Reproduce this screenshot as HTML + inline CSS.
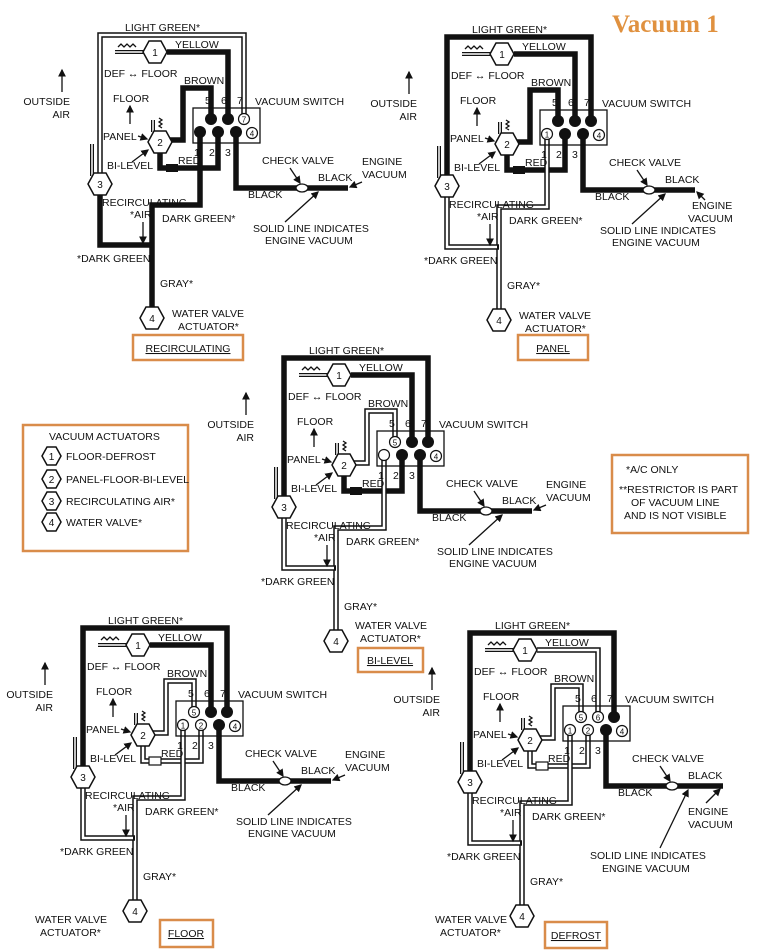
<!DOCTYPE html>
<html><head><meta charset="utf-8"><style>
body{margin:0;background:#fff;}
svg{display:block;}
text{font-family:"Liberation Sans",sans-serif;font-size:10.5px;fill:#111;}
.n{font-size:10px;}
.t{stroke:#111;stroke-width:5.5;fill:none;}
.hb{stroke:#111;stroke-width:5.5;fill:none;}
.hw{stroke:#fff;stroke-width:2.5;fill:none;}
.a{stroke:#111;stroke-width:1.3;fill:none;}
.hex{fill:#fff;stroke:#111;stroke-width:1.5;}
.ob{fill:none;stroke:#d98c4a;stroke-width:2.5;}
</style></head><body>
<svg width="757" height="952" viewBox="0 0 757 952" xmlns="http://www.w3.org/2000/svg">
<defs>
<marker id="ah" markerWidth="6" markerHeight="6" refX="5" refY="3" orient="auto"><path d="M0,0 L6,3 L0,6 z" fill="#111"/></marker>
</defs>
<text x="612" y="32" style="font-family:'Liberation Serif',serif;font-size:25px;font-weight:bold;fill:#e0913f">Vacuum 1</text>

<!-- ===== DIAGRAM 1 RECIRCULATING ===== -->
<g transform="translate(0,0)">
<path class="hb" d="M100,174 V35 H244 V114"/><path class="hw" d="M100,174 V35 H244 V114"/>
<path class="t" d="M167,52 H228 V119"/>
<path class="t" d="M211,119 V88 H183 V140 H170"/>
<path class="t" d="M160,152 V168 H218 V132"/>
<path class="t" d="M200,132 V205 H152 V308"/>
<path class="t" d="M100,194 V245 H152"/>
<path class="t" d="M236,132 V188 H298"/><path class="t" d="M306,188 H348"/>
<g id="c1">
<path class="hb" d="M92,144 V176" style="stroke-width:4"/><path class="hw" d="M92,144 V176" style="stroke-width:1.5"/>
<path class="hb" d="M115,52 H145" style="stroke-width:4"/><path class="hw" d="M115,52 H145" style="stroke-width:1.5"/>
<path class="a" d="M118,47 l3,-3 l3,3 l3,-3 l3,3 l3,-3 l3,3"/>
<path class="hb" d="M153,120 V132" style="stroke-width:4"/><path class="hw" d="M153,120 V132" style="stroke-width:1.5"/>
<path class="a" d="M159,118 l3,2 l-3,2 l3,2 l-3,2 l3,2"/>
<rect x="193" y="108" width="67" height="35" fill="none" stroke="#111" stroke-width="1.3"/>
<ellipse cx="302" cy="188" rx="6" ry="4" fill="#fff" stroke="#111" stroke-width="1.3"/>
<path class="a" d="M290,168 L300,183" marker-end="url(#ah)"/>
<path class="a" d="M130,124 V106" marker-end="url(#ah)"/>
<path class="a" d="M62,92 V70" marker-end="url(#ah)"/>
<path class="a" d="M143,222 V243" marker-end="url(#ah)"/>
<path class="a" d="M138,136 L147,139" marker-end="url(#ah)"/>
<path class="a" d="M132,162 L148,150" marker-end="url(#ah)"/>
<text x="125" y="31">LIGHT GREEN*</text>
<text x="175" y="48">YELLOW</text>
<text x="104" y="77">DEF ↔ FLOOR</text>
<text x="184" y="84">BROWN</text>
<text x="113" y="102">FLOOR</text>
<text x="70" y="105" text-anchor="end">OUTSIDE</text>
<text x="70" y="118" text-anchor="end">AIR</text>
<text x="205" y="104">5</text><text x="221" y="104">6</text><text x="237" y="104">7</text>
<text x="255" y="105">VACUUM SWITCH</text>
<text x="103" y="140">PANEL</text>
<text x="107" y="169">BI-LEVEL</text>
<text x="194" y="156">1</text><text x="209" y="156">2</text><text x="225" y="156">3</text>
<text x="178" y="164">RED</text>
<text x="262" y="164">CHECK VALVE</text>
<text x="318" y="181">BLACK</text>
<text x="248" y="198">BLACK</text>
<text x="102" y="206">RECIRCULATING</text>
<text x="130" y="218">*AIR</text>
<text x="162" y="222">DARK GREEN*</text>
<text x="77" y="262">*DARK GREEN</text>
<text x="160" y="287">GRAY*</text>
<polygon class="hex" points="143,52 149,41 161,41 167,52 161,63 149,63"/><text x="155" y="56" text-anchor="middle" class="n">1</text>
<polygon class="hex" points="148,142 154,131 166,131 172,142 166,153 154,153"/><text x="160" y="146" text-anchor="middle" class="n">2</text>
<polygon class="hex" points="88,184 94,173 106,173 112,184 106,195 94,195"/><text x="100" y="188" text-anchor="middle" class="n">3</text>
<polygon class="hex" points="140,318 146,307 158,307 164,318 158,329 146,329"/><text x="152" y="322" text-anchor="middle" class="n">4</text>
<circle cx="252" cy="133" r="5.5" fill="#fff" stroke="#111" stroke-width="1.2"/><text x="252" y="136.5" text-anchor="middle" style="font-size:8px">4</text>
</g>
<g id="ev">
<path class="a" d="M362,182 L350,187" marker-end="url(#ah)"/>
<text x="362" y="165">ENGINE</text>
<text x="362" y="178">VACUUM</text>
</g>
<g id="sl">
<path class="a" d="M285,222 L318,192" marker-end="url(#ah)"/>
<text x="253" y="232">SOLID LINE INDICATES</text>
<text x="265" y="244">ENGINE VACUUM</text>
</g>
<circle cx="211" cy="119" r="6" fill="#111"/><circle cx="228" cy="119" r="6" fill="#111"/>
<circle cx="244" cy="119" r="5.5" fill="#fff" stroke="#111" stroke-width="1.2"/><text x="244" y="122.5" text-anchor="middle" style="font-size:8px">7</text>
<circle cx="200" cy="132" r="6" fill="#111"/><circle cx="218" cy="132" r="6" fill="#111"/><circle cx="236" cy="132" r="6" fill="#111"/>
<rect x="166" y="164" width="12" height="8" fill="#111"/>
<text x="172" y="317">WATER VALVE</text><text x="178" y="330">ACTUATOR*</text>
</g>
<rect class="ob" x="133" y="335" width="110" height="25"/>
<text x="188" y="352" text-anchor="middle" style="text-decoration:underline">RECIRCULATING</text>

<!-- ===== DIAGRAM 2 PANEL ===== -->
<g transform="translate(347,2)">
<path class="t" d="M100,174 V35 H244 V119"/>
<path class="t" d="M167,52 H228 V119"/>
<path class="t" d="M211,119 V88 H183 V140 H170"/>
<path class="t" d="M160,152 V168 H218 V132"/>
<path class="hb" d="M200,132 V205 H152 V308"/><path class="hw" d="M200,132 V205 H152 V308"/>
<path class="hb" d="M100,194 V245 H152"/><path class="hw" d="M100,194 V245 H150"/>
<path class="t" d="M236,132 V188 H298"/><path class="t" d="M306,188 H348"/>
<use href="#c1"/>
<use href="#sl"/>
<path class="a" d="M358,198 L350,190" marker-end="url(#ah)"/>
<text x="345" y="207">ENGINE</text><text x="341" y="220">VACUUM</text>
<circle cx="211" cy="119" r="6" fill="#111"/><circle cx="228" cy="119" r="6" fill="#111"/><circle cx="244" cy="119" r="6" fill="#111"/>
<circle cx="200" cy="132" r="5.5" fill="#fff" stroke="#111" stroke-width="1.2"/><text x="200" y="135.5" text-anchor="middle" style="font-size:8px">1</text>
<circle cx="218" cy="132" r="6" fill="#111"/><circle cx="236" cy="132" r="6" fill="#111"/>
<rect x="166" y="164" width="12" height="8" fill="#111"/>
<text x="172" y="317">WATER VALVE</text><text x="178" y="330">ACTUATOR*</text>
</g>
<rect class="ob" x="518" y="335" width="70" height="25"/>
<text x="553" y="352" text-anchor="middle" style="text-decoration:underline">PANEL</text>

<!-- ===== DIAGRAM 3 BI-LEVEL ===== -->
<g transform="translate(184,323)">
<path class="t" d="M100,174 V35 H244 V119"/>
<path class="t" d="M167,52 H228 V119"/>
<path class="hb" d="M211,119 V88 H183 V140 H170"/><path class="hw" d="M211,119 V88 H183 V140 H170"/>
<path class="t" d="M160,152 V168 H218 V132"/>
<path class="hb" d="M200,132 V205 H152 V308"/><path class="hw" d="M200,132 V205 H152 V308"/>
<path class="hb" d="M100,194 V245 H152"/><path class="hw" d="M100,194 V245 H150"/>
<path class="t" d="M236,132 V188 H298"/><path class="t" d="M306,188 H348"/>
<use href="#c1"/><use href="#ev"/><use href="#sl"/>
<circle cx="211" cy="119" r="5.5" fill="#fff" stroke="#111" stroke-width="1.2"/><text x="211" y="122.5" text-anchor="middle" style="font-size:8px">5</text>
<circle cx="228" cy="119" r="6" fill="#111"/><circle cx="244" cy="119" r="6" fill="#111"/>
<circle cx="200" cy="132" r="5.5" fill="#fff" stroke="#111" stroke-width="1.2"/>
<circle cx="218" cy="132" r="6" fill="#111"/><circle cx="236" cy="132" r="6" fill="#111"/>
<rect x="166" y="164" width="12" height="8" fill="#111"/>
<text x="171" y="306">WATER VALVE</text><text x="176" y="319">ACTUATOR*</text>
</g>
<rect class="ob" x="358" y="648" width="65" height="24"/>
<text x="390" y="664" text-anchor="middle" style="text-decoration:underline">BI-LEVEL</text>

<!-- ===== DIAGRAM 4 FLOOR ===== -->
<g transform="translate(-17,593)">
<path class="t" d="M100,174 V35 H244 V119"/>
<path class="t" d="M167,52 H228 V119"/>
<path class="hb" d="M211,119 V88 H183 V140 H170"/><path class="hw" d="M211,119 V88 H183 V140 H170"/>
<path class="hb" d="M160,152 V168 H218 V132"/><path class="hw" d="M160,152 V168 H218 V132"/>
<path class="hb" d="M200,132 V205 H152 V308"/><path class="hw" d="M200,132 V205 H152 V308"/>
<path class="hb" d="M100,194 V245 H152"/><path class="hw" d="M100,194 V245 H150"/>
<path class="t" d="M236,132 V188 H298"/><path class="t" d="M306,188 H348"/>
<use href="#c1"/><use href="#ev"/><use href="#sl"/>
<circle cx="211" cy="119" r="5.5" fill="#fff" stroke="#111" stroke-width="1.2"/><text x="211" y="122.5" text-anchor="middle" style="font-size:8px">5</text>
<circle cx="228" cy="119" r="6" fill="#111"/><circle cx="244" cy="119" r="6" fill="#111"/>
<circle cx="200" cy="132" r="5.5" fill="#fff" stroke="#111" stroke-width="1.2"/><text x="200" y="135.5" text-anchor="middle" style="font-size:8px">1</text>
<circle cx="218" cy="132" r="5.5" fill="#fff" stroke="#111" stroke-width="1.2"/><text x="218" y="135.5" text-anchor="middle" style="font-size:8px">2</text>
<circle cx="236" cy="132" r="6" fill="#111"/>
<rect x="166" y="164" width="12" height="8" fill="#fff" stroke="#111" stroke-width="1.2"/>
</g>
<text x="35" y="923">WATER VALVE</text><text x="40" y="936">ACTUATOR*</text>
<rect class="ob" x="160" y="920" width="53" height="27"/>
<text x="186" y="937" text-anchor="middle" style="text-decoration:underline">FLOOR</text>

<!-- ===== DIAGRAM 5 DEFROST ===== -->
<g transform="translate(370,598)">
<path class="t" d="M100,174 V35 H244 V119"/>
<path class="hb" d="M167,52 H228 V119"/><path class="hw" d="M167,52 H228 V119"/>
<path class="hb" d="M211,119 V88 H183 V140 H170"/><path class="hw" d="M211,119 V88 H183 V140 H170"/>
<path class="hb" d="M160,152 V168 H218 V132"/><path class="hw" d="M160,152 V168 H218 V132"/>
<path class="hb" d="M200,132 V205 H152 V308"/><path class="hw" d="M200,132 V205 H152 V308"/>
<path class="hb" d="M100,194 V245 H152"/><path class="hw" d="M100,194 V245 H150"/>
<path class="t" d="M236,132 V188 H298"/><path class="t" d="M306,188 H353"/>
<use href="#c1"/>
<path class="a" d="M290,250 L318,192" marker-end="url(#ah)"/>
<text x="220" y="261">SOLID LINE INDICATES</text>
<text x="232" y="274">ENGINE VACUUM</text>
<path class="a" d="M336,205 L350,191" marker-end="url(#ah)"/>
<text x="318" y="217">ENGINE</text><text x="318" y="230">VACUUM</text>
<circle cx="211" cy="119" r="5.5" fill="#fff" stroke="#111" stroke-width="1.2"/><text x="211" y="122.5" text-anchor="middle" style="font-size:8px">5</text>
<circle cx="228" cy="119" r="5.5" fill="#fff" stroke="#111" stroke-width="1.2"/><text x="228" y="122.5" text-anchor="middle" style="font-size:8px">6</text>
<circle cx="244" cy="119" r="6" fill="#111"/>
<circle cx="200" cy="132" r="5.5" fill="#fff" stroke="#111" stroke-width="1.2"/><text x="200" y="135.5" text-anchor="middle" style="font-size:8px">1</text>
<circle cx="218" cy="132" r="5.5" fill="#fff" stroke="#111" stroke-width="1.2"/><text x="218" y="135.5" text-anchor="middle" style="font-size:8px">2</text>
<circle cx="236" cy="132" r="6" fill="#111"/>
<rect x="166" y="164" width="12" height="8" fill="#fff" stroke="#111" stroke-width="1.2"/>
</g>
<text x="435" y="923">WATER VALVE</text><text x="440" y="936">ACTUATOR*</text>
<rect class="ob" x="545" y="922" width="62" height="26"/>
<text x="576" y="939" text-anchor="middle" style="text-decoration:underline">DEFROST</text>

<!-- Legend -->
<rect class="ob" x="23" y="425" width="165" height="126"/>
<text x="49" y="440">VACUUM ACTUATORS</text>
<g>
<polygon class="hex" points="42,456 47,447 56,447 61,456 56,465 47,465"/><text x="51.5" y="460" text-anchor="middle" class="n">1</text><text x="66" y="460">FLOOR-DEFROST</text>
<polygon class="hex" points="42,479 47,470 56,470 61,479 56,488 47,488"/><text x="51.5" y="483" text-anchor="middle" class="n">2</text><text x="66" y="483">PANEL-FLOOR-BI-LEVEL</text>
<polygon class="hex" points="42,501 47,492 56,492 61,501 56,510 47,510"/><text x="51.5" y="505" text-anchor="middle" class="n">3</text><text x="66" y="505">RECIRCULATING AIR*</text>
<polygon class="hex" points="42,522 47,513 56,513 61,522 56,531 47,531"/><text x="51.5" y="526" text-anchor="middle" class="n">4</text><text x="66" y="526">WATER VALVE*</text>
</g>
<rect class="ob" x="612" y="455" width="136" height="78"/>
<text x="626" y="473">*A/C ONLY</text>
<text x="619" y="493">**RESTRICTOR IS PART</text>
<text x="631" y="506">OF VACUUM LINE</text>
<text x="624" y="519">AND IS NOT VISIBLE</text>
</svg>
</body></html>
